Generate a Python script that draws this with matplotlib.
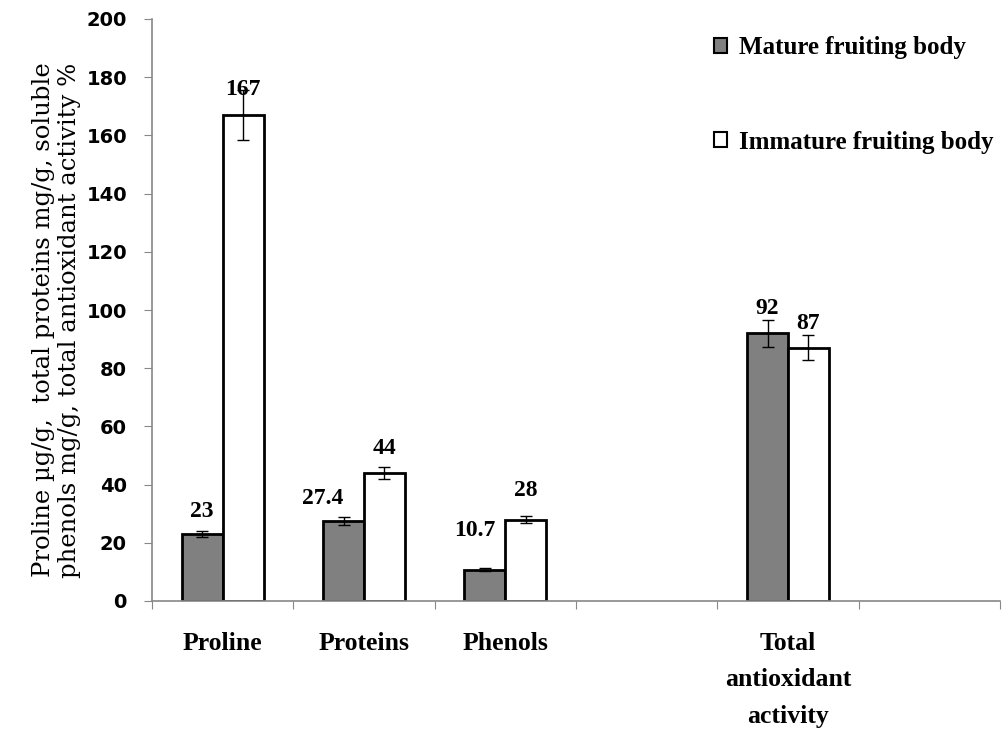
import numpy as np
import matplotlib
matplotlib.use("Agg")
import matplotlib.pyplot as plt
from matplotlib.patches import Patch

# data (empty slots kept as in the original chart)
categories = ["Proline", "Proteins", "Phenols", "", "Total\nantioxidant\nactivity", ""]
mature = [23, 27.4, 10.7, np.nan, 92, np.nan]
immature = [167, 44, 28, np.nan, 87, np.nan]
mature_err = [0.9, 1.3, 0.5, np.nan, 4.6, np.nan]
immature_err = [8.6, 2.0, 1.3, np.nan, 4.3, np.nan]
mature_lbl = ["23", "27.4", "10.7", "", "92", ""]
immature_lbl = ["167", "44", "28", "", "87", ""]
# label offsets in points (dx, dy) from the bar top
mature_off = [(0, 9), (-15, 9), (-7, 21), (0, 0), (0, 10), (0, 0)]
immature_off = [(0, 11), (0, 10), (0, 13), (0, 0), (0, 10), (0, 0)]

serif = "Liberation Serif"

fig = plt.figure(figsize=(10.03, 7.29), dpi=100)
ax = fig.add_axes([152 / 1003, 1 - 601 / 729, 848 / 1003, (601 - 19) / 729])

x = np.arange(len(categories)) + 0.5
w = 0.29
ax.bar(x - w / 2, mature, w, color="#808080", edgecolor="black", linewidth=2.0,
       yerr=mature_err, error_kw=dict(ecolor="black", elinewidth=1, capsize=4.5, capthick=1),
       label="Mature fruiting body", zorder=2)
ax.bar(x + w / 2, immature, w, color="white", edgecolor="black", linewidth=2.0,
       yerr=immature_err, error_kw=dict(ecolor="black", elinewidth=1, capsize=4.5, capthick=1),
       label="Immature fruiting body", zorder=2)

for i in range(len(categories)):
    if mature_lbl[i]:
        ax.annotate(mature_lbl[i], (x[i] - w / 2, mature[i]), xytext=mature_off[i],
                    textcoords="offset points", ha="center", va="bottom",
                    fontsize=17, fontweight="bold", family=serif, zorder=3)
    if immature_lbl[i]:
        ax.annotate(immature_lbl[i], (x[i] + w / 2, immature[i]), xytext=immature_off[i],
                    textcoords="offset points", ha="center", va="bottom",
                    fontsize=17, fontweight="bold", family=serif, zorder=3)

ax.set_xlim(0, len(categories))
ax.set_ylim(0, 200)
ax.set_yticks(np.arange(0, 201, 20))
ax.set_xticks(np.arange(0, len(categories) + 1))
ax.set_xticklabels([])
ax.set_xticks(x, minor=True)
ax.set_xticklabels(categories, minor=True, fontsize=18.5, fontweight="bold",
                   family=serif, va="top", linespacing=1.75)
ax.tick_params(axis="x", which="minor", length=0, pad=22)
ax.tick_params(axis="x", which="major", length=6, color="#888888")
ax.tick_params(axis="y", length=6, color="#888888", labelsize=14, pad=12)
for t in ax.get_yticklabels():
    t.set_fontweight("bold")
    t.set_family("DejaVu Sans")

for s in ["top", "right"]:
    ax.spines[s].set_visible(False)
for s in ["left", "bottom"]:
    ax.spines[s].set_color("#888888")
    ax.spines[s].set_linewidth(1.2)

ax.set_ylabel("Proline µg/g,  total proteins mg/g, soluble\nphenols mg/g, total antioxidant activity %",
              fontsize=17.5, family="DejaVu Serif", linespacing=1.15)
ax.yaxis.set_label_coords(-0.0835, 0.483)

handles = [Patch(facecolor="#808080", edgecolor="black", linewidth=1.5),
           Patch(facecolor="white", edgecolor="black", linewidth=1.5)]
leg = fig.legend(handles, ["Mature fruiting body", "Immature fruiting body"],
                 loc="upper left", bbox_to_anchor=(0.689, 0.981), frameon=False,
                 prop=dict(family=serif, weight="bold", size=18),
                 handlelength=0.55, handleheight=0.55, handletextpad=0.45,
                 labelspacing=2.85)

fig.savefig("out.png", dpi=100)
